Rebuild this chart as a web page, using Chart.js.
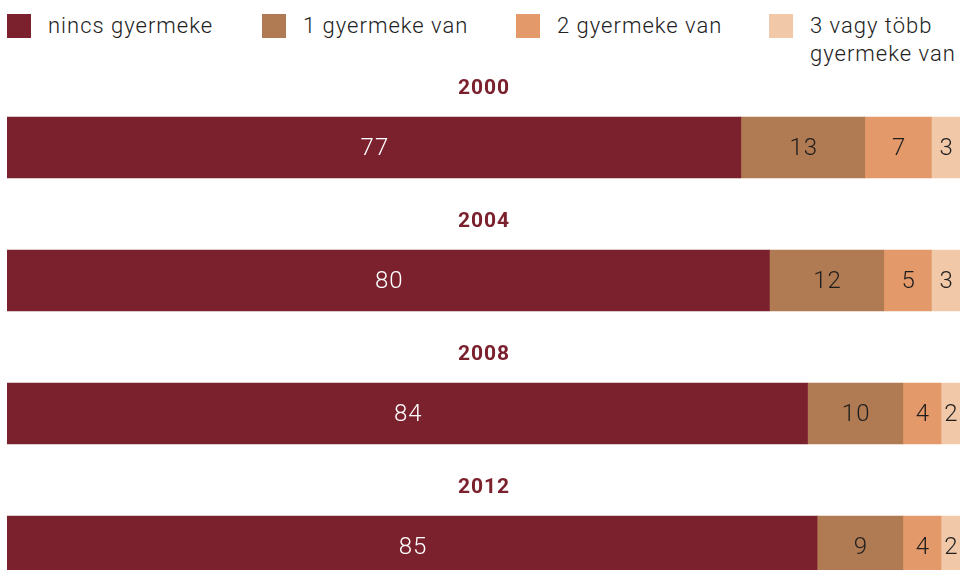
<!DOCTYPE html>
<html>
<head>
<meta charset="utf-8">
<script src="https://cdn.jsdelivr.net/npm/chart.js@4"></script>
<style>
  html, body { margin: 0; padding: 0; overflow: hidden; background: #fff; }
  body { width: 961px; height: 570px; position: relative; font-family: Roboto, sans-serif; }
  .legend { position: absolute; top: 0; left: 0; width: 961px; height: 80px; }
  .item { position: absolute; top: 14px; font-size: 22px; font-weight: 300; color: #222; line-height: 28px; letter-spacing: 1px; }
  .item i { position: absolute; left: 0; top: 0; width: 24px; height: 24px; }
  .item span { position: absolute; left: 41px; top: -2px; white-space: nowrap; }
  .wrap { position: absolute; top: 0; left: 0; width: 961px; height: 613px; }
</style>
</head>
<body>
<div class="legend" id="legend"></div>
<div class="wrap"><canvas id="myChart"></canvas></div>
<script>
const years = ['2000', '2004', '2008', '2012'];
const seriesNames = ['nincs gyermeke', '1 gyermeke van', '2 gyermeke van', '3 vagy több\ngyermeke van'];
const noChild = [77, 80, 84, 85];
const oneChild = [13, 12, 10, 9];
const twoChild = [7, 5, 4, 4];
const threePlus = [3, 3, 2, 2];

const colors = ['#7b212e', '#b07a52', '#e3996a', '#f1c9a9'];
const labelColors = ['#ffffff', '#1e1e1e', '#1e1e1e', '#1e1e1e'];
const legendX = [7, 262, 516, 769];

// html legend
let legend = document.getElementById('legend');
seriesNames.forEach(function (name, i) {
    let d = document.createElement('div');
    d.className = 'item';
    d.style.left = legendX[i] + 'px';
    d.innerHTML = '<i style="background:' + colors[i] + '"></i><span>' + name.replace('\n', '<br>') + '</span>';
    legend.appendChild(d);
});

// year titles above bars + values inside segments
const barText = {
    id: 'barText',
    afterDatasetsDraw(chart) {
        const ctx = chart.ctx;
        ctx.save();
        ctx.textAlign = 'center';
        ctx.textBaseline = 'middle';
        ctx.letterSpacing = '1px';
        chart.data.datasets.forEach(function (ds, i) {
            const meta = chart.getDatasetMeta(i);
            meta.data.forEach(function (bar, j) {
                ctx.fillStyle = labelColors[i];
                ctx.font = '300 24px Roboto';
                ctx.fillText(ds.data[j], (bar.x + bar.base) / 2 + 1, bar.y + 1);
            });
        });
        const meta0 = chart.getDatasetMeta(0);
        ctx.fillStyle = '#7b212e';
        ctx.font = 'bold 21px Roboto';
        meta0.data.forEach(function (bar, j) {
            ctx.fillText(years[j], 484, bar.y - 59);
        });
        ctx.restore();
    }
};

new Chart(document.getElementById('myChart'), {
    type: 'bar',
    data: {
        labels: years,
        datasets: [
            { label: seriesNames[0], data: noChild, backgroundColor: colors[0] },
            { label: seriesNames[1], data: oneChild, backgroundColor: colors[1] },
            { label: seriesNames[2], data: twoChild, backgroundColor: colors[2] },
            { label: seriesNames[3], data: threePlus, backgroundColor: colors[3] }
        ]
    },
    options: {
        indexAxis: 'y',
        responsive: true,
        maintainAspectRatio: false,
        animation: false,
        layout: { padding: { top: 81, left: 7, right: 1, bottom: 0 } },
        barThickness: 61,
        plugins: { legend: { display: false }, tooltip: { enabled: false } },
        scales: {
            x: { stacked: true, min: 0, max: 100, display: false },
            y: { stacked: true, display: false }
        }
    },
    plugins: [barText]
});
</script>
</body>
</html>
